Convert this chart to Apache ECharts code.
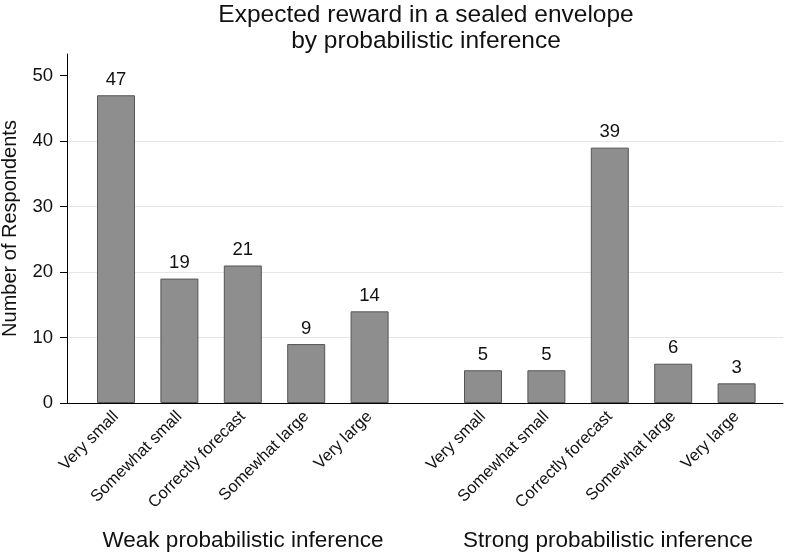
<!DOCTYPE html>
<html>
<head>
<meta charset="utf-8">
<script src="https://cdn.jsdelivr.net/npm/echarts@6/dist/echarts.min.js"></script>
<style>
html,body{margin:0;padding:0;background:#fff;}
#chart{width:786px;height:556px;}
</style>
</head>
<body>
<div id="chart"></div>
<script>
const categories = ['Very small', 'Somewhat small', 'Correctly forecast', 'Somewhat large', 'Very large'];
const weakValues = [47, 19, 21, 9, 14];
const strongValues = [5, 5, 39, 6, 3];
const groupNames = ['Weak probabilistic inference', 'Strong probabilistic inference'];
const yTicks = [0, 10, 20, 30, 40, 50];
const titleLines = ['Expected reward in a sealed envelope', 'by probabilistic inference'];
const yName = 'Number of Respondents';

const FONT = '"Liberation Sans", Arial, Helvetica, sans-serif';
const TEXT = '#111';
const YMAX = 53.3;
const TOP = 54, BOTTOM = 153;

const chart = echarts.init(document.getElementById('chart'), null, {renderer: 'canvas'});

function catAxis(idx) {
  return {
    type: 'category', gridIndex: idx, data: categories,
    axisLine: {show: false}, axisTick: {show: false},
    axisLabel: {rotate: 45, fontSize: 16.5, color: TEXT, fontFamily: FONT, margin: 11, interval: 0}
  };
}
function hiddenY(idx) {
  return {type: 'value', gridIndex: idx, min: 0, max: YMAX, show: false, splitLine: {show: false}};
}
function barSeries(idx, values) {
  return {
    type: 'bar', xAxisIndex: idx, yAxisIndex: idx, data: values, barWidth: 38,
    itemStyle: {color: '#8e8e8e', borderColor: '#555555', borderWidth: 1},
    label: {show: true, position: 'top', distance: 6, fontSize: 18.5, color: TEXT, fontFamily: FONT},
    emphasis: {disabled: true}, animation: false
  };
}

const option = {
  animation: false,
  textStyle: {fontFamily: FONT},
  grid: [
    {left: 67, right: 3, top: TOP, bottom: BOTTOM, outerBoundsMode: 'none', containLabel: false},
    {left: 84.3, width: 317, top: TOP, bottom: BOTTOM, outerBoundsMode: 'none', containLabel: false},
    {left: 451.3, width: 317, top: TOP, bottom: BOTTOM, outerBoundsMode: 'none', containLabel: false}
  ],
  xAxis: [
    {type: 'value', gridIndex: 0, min: 0, max: 1,
     axisLine: {show: true, lineStyle: {color: '#000', width: 1}},
     axisTick: {show: false}, axisLabel: {show: false}, splitLine: {show: false}},
    catAxis(1), catAxis(2)
  ],
  yAxis: [
    {type: 'value', gridIndex: 0, min: 0, max: YMAX, interval: 10,
     name: yName, nameLocation: 'middle', nameGap: 47,
     nameTextStyle: {fontSize: 20, color: TEXT, fontFamily: FONT},
     axisLine: {show: true, lineStyle: {color: '#000', width: 1}},
     axisTick: {show: true, length: 7, customValues: yTicks, lineStyle: {color: '#000'}},
     axisLabel: {customValues: yTicks, fontSize: 18.5, color: TEXT, fontFamily: FONT, margin: 14},
     splitLine: {show: true, showMaxLine: false, lineStyle: {color: '#e6e6e6', width: 1}}},
    hiddenY(1), hiddenY(2)
  ],
  series: [barSeries(1, weakValues), barSeries(2, strongValues)],
  graphic: [
    {type: 'text', x: 426, y: 2, silent: true,
     style: {text: titleLines.join('\n'), fill: TEXT, font: '24.5px ' + FONT, lineHeight: 26, align: 'center', verticalAlign: 'top'}},
    {type: 'text', x: 243, y: 541, silent: true,
     style: {text: groupNames[0], fill: TEXT, font: '22.5px ' + FONT, align: 'center', verticalAlign: 'middle'}},
    {type: 'text', x: 608, y: 541, silent: true,
     style: {text: groupNames[1], fill: TEXT, font: '22.5px ' + FONT, align: 'center', verticalAlign: 'middle'}}
  ]
};
chart.setOption(option);
</script>
</body>
</html>
